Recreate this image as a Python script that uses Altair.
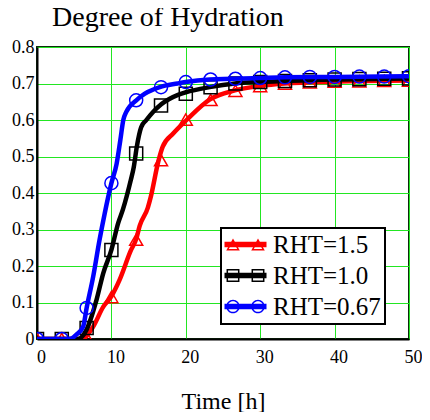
import altair as alt
import pandas as pd

# ---------------- data ----------------
series = ["RHT=1.5", "RHT=1.0", "RHT=0.67"]
colors = ["#ff0000", "#000000", "#0000ff"]
shapes = ["triangle-up", "square", "circle"]

# curves
red_t = [0, 6.0, 7.5, 8.9, 10, 11.1, 12.6, 13.35, 13.8, 14.9, 15.3, 16.3, 16.9, 18.3, 20.1, 23.2, 26.6, 29.9, 33.3, 40, 50]
red_v = [0, 0, 0.032, 0.088, 0.117, 0.162, 0.242, 0.275, 0.31, 0.36, 0.39, 0.486, 0.527, 0.563, 0.60, 0.656, 0.681, 0.693, 0.70, 0.705, 0.708]

black_t = [0, 5.5, 6.65, 8.0, 8.9, 10, 10.9, 11.55, 12.6, 13.0, 13.4, 14.0, 14.7, 15.6, 16.7, 18.95, 20, 23.2, 26.6, 29.9, 40, 50]
black_v = [0, 0, 0.025, 0.107, 0.18, 0.244, 0.317, 0.355, 0.435, 0.47, 0.525, 0.58, 0.60, 0.622, 0.643, 0.669, 0.676, 0.69, 0.70, 0.704, 0.711, 0.714]

blue_t = [0, 4.4, 5.3, 6.2, 6.67, 7.55, 8.4, 9.1, 10, 10.7, 11.2, 11.6, 12.0, 13.35, 14.5, 16.5, 18.9, 20, 23.2, 29.9, 33.3, 40, 50]
blue_v = [0, 0, 0.012, 0.034, 0.085, 0.171, 0.271, 0.344, 0.427, 0.48, 0.545, 0.60, 0.622, 0.654, 0.672, 0.69, 0.70, 0.704, 0.711, 0.715, 0.717, 0.718, 0.72]

# markers
marker_t = [0, 3.33, 6.67, 10, 13.33, 16.67, 20, 23.33, 26.67, 30, 33.33, 36.67, 40, 43.33, 46.67, 50]
red_m = [0, 0, 0.005, 0.115, 0.272, 0.49, 0.601, 0.655, 0.68, 0.693, 0.70, 0.703, 0.705, 0.706, 0.707, 0.708]
black_m = [0, 0, 0.03, 0.244, 0.508, 0.64, 0.672, 0.69, 0.70, 0.704, 0.707, 0.709, 0.711, 0.712, 0.713, 0.714]
blue_m = [0, 0, 0.085, 0.427, 0.654, 0.69, 0.704, 0.711, 0.713, 0.715, 0.717, 0.718, 0.718, 0.719, 0.719, 0.72]

x_ticks = [0, 10, 20, 30, 40, 50]
y_ticks = [0, 0.1, 0.2, 0.3, 0.4, 0.5, 0.6, 0.7, 0.8]

curves = [(red_t, red_v), (black_t, black_v), (blue_t, blue_v)]
marks = [red_m, black_m, blue_m]

# ---------------- legend symbol paths (line + two open markers) ----------------
def rect(x0, y0, x1, y1):
    return f"M{x0},{y0} L{x1},{y0} L{x1},{y1} L{x0},{y1} Z "

def rect_rev(x0, y0, x1, y1):
    return f"M{x0},{y0} L{x0},{y1} L{x1},{y1} L{x1},{y0} Z "

def tri(cx, r, t):
    h = 0.8660254 * r
    s = f"M{cx},{-h:.3f} L{cx + r:.3f},{h:.3f} L{cx - r:.3f},{h:.3f} Z "
    cy = h / 3
    inr = 2 * h / 3
    k = (inr - t) / inr
    pts = [(cx, -h), (cx - r, h), (cx + r, h)]
    ip = [(cx + k * (px - cx), cy + k * (py - cy)) for px, py in pts]
    s += "M{:.3f},{:.3f} L{:.3f},{:.3f} L{:.3f},{:.3f} Z ".format(*ip[0], *ip[1], *ip[2])
    return s

def sq(cx, r, t):
    return rect(cx - r, -r, cx + r, r) + rect_rev(cx - r + t, -r + t, cx + r - t, r - t)

def circ(cx, r, t):
    ri = r - t
    s = f"M{cx + r},0 A{r},{r} 0 1 1 {cx - r},0 A{r},{r} 0 1 1 {cx + r},0 Z "
    s += f"M{cx + ri},0 A{ri},{ri} 0 1 0 {cx - ri},0 A{ri},{ri} 0 1 0 {cx + ri},0 Z "
    return s

W, LH, MC, MR, MT = 2.1, 0.28, 1.25, 0.68, 0.15
base = rect(-W, -LH, W, LH)
legend_paths = [
    base + tri(-MC, MR, MT) + tri(MC, MR, MT),
    base + sq(-MC, MR * 0.95, MT) + sq(MC, MR * 0.95, MT),
    base + circ(-MC, MR, MT) + circ(MC, MR, MT),
]

# ---------------- chart ----------------
FONT = "Liberation Serif"
GRID = "#22e622"

xs = alt.Scale(domain=[0, 50], nice=False, zero=False)
ys = alt.Scale(domain=[0, 0.8], nice=False)

x_axis = alt.Axis(values=x_ticks, title="Time [h]", grid=True, ticks=False,
                  labelPadding=9, labelOffset=4, labelFlush=False,
                  titlePadding=23, domainColor="black", domainWidth=2)
y_axis = alt.Axis(values=y_ticks, title=None, grid=True, ticks=False,
                  labelPadding=3, labelFlush=False,
                  labelExpr="datum.value == 0 ? '0' : format(datum.value, '.1f')",
                  domainColor="black", domainWidth=2)

X = lambda: alt.X("t:Q", scale=xs, axis=x_axis)
Y = lambda: alt.Y("v:Q", scale=ys, axis=y_axis)

layers = []
for i, name in enumerate(series):
    t, v = curves[i]
    df = pd.DataFrame({"t": t, "v": v})
    line = alt.Chart(df).mark_line(color=colors[i], strokeWidth=4.5,
                                   interpolate="monotone", clip=True).encode(x=X(), y=Y())
    mdf = pd.DataFrame({"t": marker_t, "v": marks[i]})
    pts = alt.Chart(mdf).mark_point(shape=shapes[i], color=colors[i], filled=False,
                                    size=170, strokeWidth=1.5, clip=True, opacity=1).encode(x=X(), y=Y())
    layers += [line, pts]

leg_df = pd.DataFrame({"key": series, "t": [0] * 3, "v": [0] * 3})
legend_layer = alt.Chart(leg_df).mark_point(filled=True, size=0, opacity=1).encode(
    x=X(), y=Y(),
    color=alt.Color("key:N", scale=alt.Scale(domain=series, range=colors), title=None,
                    legend=alt.Legend(orient="none", legendX=184, legendY=181,
                                      fillColor="white", strokeColor="black",
                                      padding=4, rowPadding=5,
                                      symbolOffset=8, labelOffset=15,
                                      symbolOpacity=1, symbolStrokeWidth=0,
                                      symbolSize=400,
                                      labelFont=FONT, labelFontSize=25,
                                      labelColor="black", labelLimit=300)),
    shape=alt.Shape("key:N", scale=alt.Scale(domain=series, range=legend_paths), title=None),
)
layers.append(legend_layer)

chart = alt.layer(*layers).properties(
    width=372, height=292,
    title=alt.Title("Degree of Hydration", font=FONT, fontSize=28, fontWeight="normal",
                    anchor="start", frame="group", dx=15, offset=6, color="black"),
    autosize=alt.AutoSizeParams(type="none"),
    padding={"left": 29, "top": 39, "right": 13, "bottom": 73},
).configure_view(
    stroke="#0f2a0f", strokeWidth=2
).configure_axis(
    gridColor=GRID, gridWidth=1, gridOpacity=1,
    labelFont=FONT, labelFontSize=18, labelColor="black",
    titleFont=FONT, titleFontSize=24, titleFontWeight="normal", titleColor="black",
).configure_legend(
    strokeWidth=2
)

chart.save("out.html", embed_options={"renderer": "svg", "actions": False})
